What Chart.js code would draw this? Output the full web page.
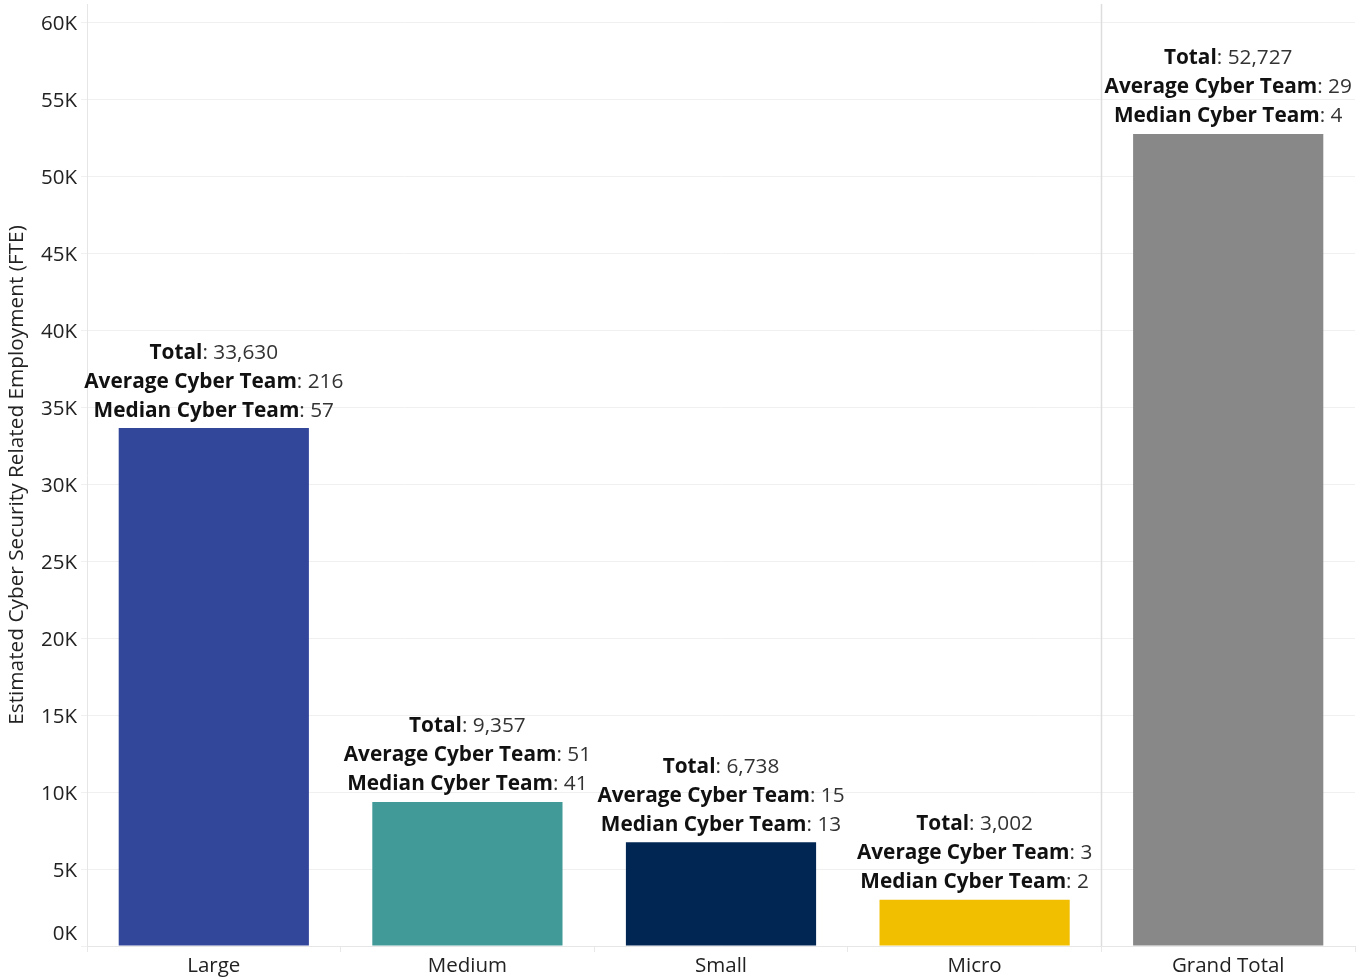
<!DOCTYPE html>
<html>
<head>
<meta charset="utf-8">
<script src="https://cdn.jsdelivr.net/npm/chart.js@4"></script>
<style>
  html, body { margin: 0; padding: 0; background: #ffffff; }
  #wrap { width: 1368px; height: 980px; }
</style>
</head>
<body>
<div id="wrap"><canvas id="chart" width="1368" height="980"></canvas></div>
<script>
// Organisation size bands and the grand total
const categories = ['Large', 'Medium', 'Small', 'Micro', 'Grand Total'];
// Estimated cyber security related employment (FTE)
const totals = [33630, 9357, 6738, 3002, 52727];
// Average and median cyber team size per band
const averageTeam = [216, 51, 15, 3, 29];
const medianTeam = [57, 41, 13, 2, 4];
const barColors = ['#33479A', '#419A98', '#022654', '#F1BF00', '#888888'];
// Value axis ticks
const yTicks = [0, 5000, 10000, 15000, 20000, 25000, 30000, 35000, 40000, 45000, 50000, 55000, 60000];
const yMax = 61170;

const FONT = "'Open Sans', 'Noto Sans', sans-serif";
const LABEL_SIZE = 20.8;

const fmt = new Intl.NumberFormat('en-US');

// Three-line annotation above each bar: bold key, normal value
const barLabels = {
  id: 'barLabels',
  afterDatasetsDraw(chart) {
    const ctx = chart.ctx;
    const meta = chart.getDatasetMeta(0);
    ctx.save();
    ctx.textBaseline = 'middle';
    ctx.textAlign = 'left';
    meta.data.forEach((bar, i) => {
      const lines = [
        ['Total', fmt.format(totals[i])],
        ['Average Cyber Team', String(averageTeam[i])],
        ['Median Cyber Team', String(medianTeam[i])]
      ];
      const lineGap = 29;
      const lastY = bar.y - 17.5;
      lines.forEach((ln, k) => {
        const y = lastY - (lines.length - 1 - k) * lineGap;
        const boldText = ln[0];
        const normText = ': ' + ln[1];
        ctx.font = `bold ${LABEL_SIZE}px ${FONT}`;
        const wb = ctx.measureText(boldText).width;
        ctx.font = `${LABEL_SIZE}px ${FONT}`;
        const wn = ctx.measureText(normText).width;
        const x0 = bar.x - (wb + wn) / 2;
        ctx.font = `bold ${LABEL_SIZE}px ${FONT}`;
        ctx.fillStyle = '#111111';
        ctx.fillText(boldText, x0, y);
        ctx.font = `${LABEL_SIZE}px ${FONT}`;
        ctx.fillStyle = '#333333';
        ctx.fillText(normText, x0 + wb, y);
      });
    });
    ctx.restore();
  }
};

// Full-height divider between the size bands and the grand total
const totalDivider = {
  id: 'totalDivider',
  beforeDatasetsDraw(chart) {
    const xs = chart.scales.x;
    const area = chart.chartArea;
    const x = Math.round((xs.getPixelForValue(3) + xs.getPixelForValue(4)) / 2) + 0.5;
    const ctx = chart.ctx;
    ctx.save();
    ctx.strokeStyle = '#dddddd';
    ctx.lineWidth = 1.5;
    ctx.beginPath();
    ctx.moveTo(x, area.top);
    ctx.lineTo(x, area.bottom);
    ctx.stroke();
    ctx.restore();
  }
};

new Chart(document.getElementById('chart'), {
  type: 'bar',
  data: {
    labels: categories,
    datasets: [{
      data: totals,
      backgroundColor: barColors,
      borderWidth: 0,
      categoryPercentage: 1,
      barPercentage: 0.75
    }]
  },
  options: {
    responsive: false,
    animation: false,
    devicePixelRatio: 1,
    layout: { padding: { top: 4, right: 13, left: 0, bottom: 0 } },
    plugins: {
      legend: { display: false },
      tooltip: { enabled: false },
      title: { display: false }
    },
    scales: {
      x: {
        offset: true,
        grid: {
          display: true,
          offset: true,
          drawOnChartArea: false,
          drawTicks: true,
          tickLength: 6,
          color: '#e8e8e8'
        },
        border: { display: true, color: '#e6e6e6', width: 1 },
        ticks: {
          color: '#222222',
          padding: 2,
          font: { family: FONT, size: 20.5 },
          maxRotation: 0
        },
        afterFit(scale) {
          scale.height = 34;
          scale.paddingLeft = 0;
          scale.paddingRight = 0;
        }
      },
      y: {
        min: 0,
        max: yMax,
        afterBuildTicks(scale) {
          scale.ticks = yTicks.map(v => ({ value: v }));
        },
        grid: {
          color: '#f0f0f0',
          tickLength: 6,
          drawTicks: true
        },
        border: { display: true, color: '#e6e6e6', width: 1 },
        ticks: {
          color: '#222222',
          padding: 4,
          labelOffset: 2,
          font: (c) => (c.index === 0
            ? { family: FONT, size: 20.5, lineHeight: '28px' }
            : { family: FONT, size: 20.5 }),
          callback: (v) => (v === 0 ? ['0K', ''] : (v / 1000) + 'K')
        },
        title: {
          display: true,
          text: 'Estimated Cyber Security Related Employment (FTE)',
          color: '#222222',
          font: { family: FONT, size: 20.8 },
          padding: { top: 5, bottom: 0 }
        },
        afterFit(scale) {
          scale.width = 87;
          scale.paddingTop = 0;
          scale.paddingBottom = 0;
        }
      }
    }
  },
  plugins: [totalDivider, barLabels]
});
</script>
</body>
</html>
